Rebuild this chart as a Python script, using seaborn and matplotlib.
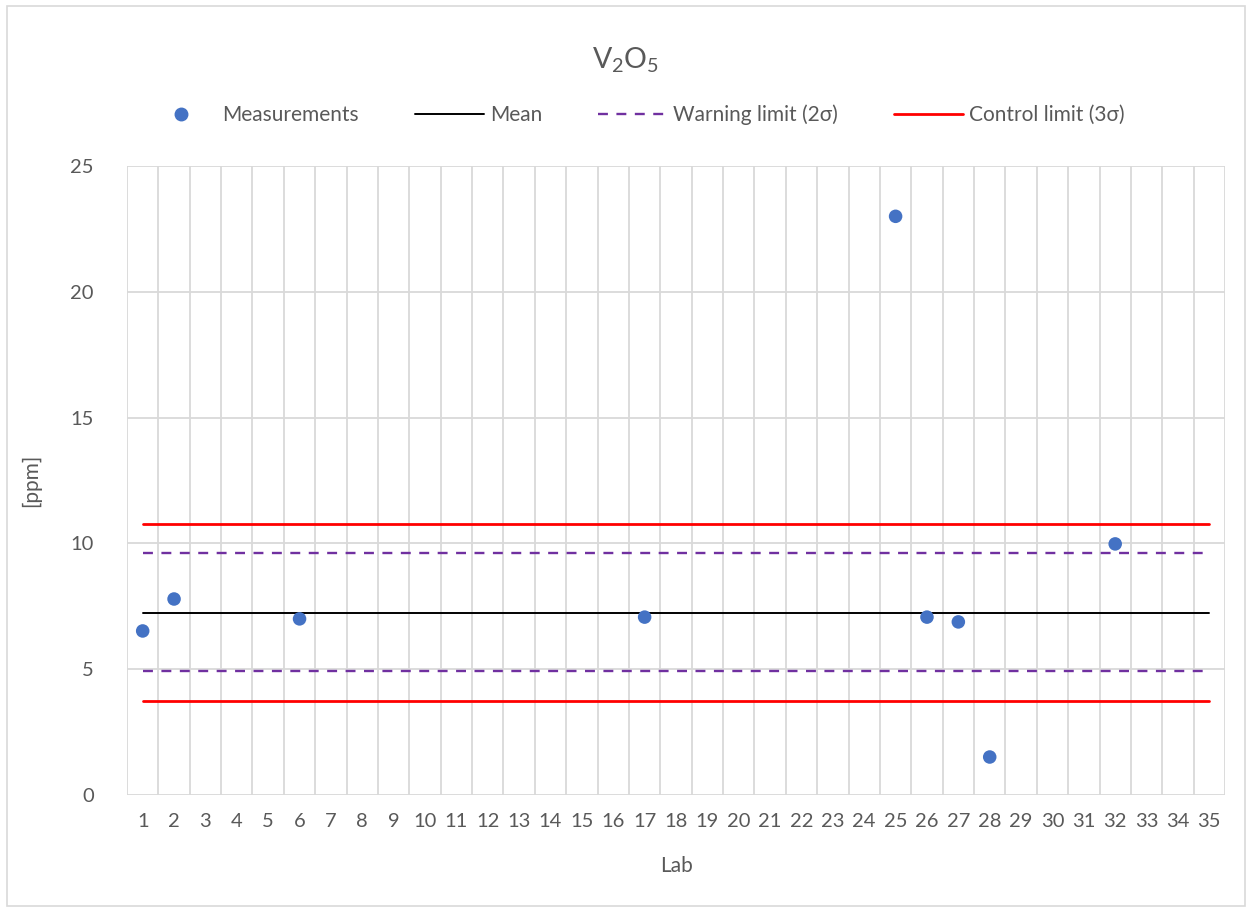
import matplotlib
matplotlib.use("Agg")
import matplotlib.pyplot as plt
import seaborn as sns
import pandas as pd
from matplotlib.lines import Line2D
from matplotlib.patches import Rectangle

# ---- data ----
labs = list(range(1, 36))
meas_labs = [1, 2, 6, 17, 25, 26, 27, 28, 32]
meas_values = [6.52, 7.79, 7.0, 7.07, 23.0, 7.07, 6.88, 1.51, 9.98]
mean_value = 7.23
warning_upper = 9.62
warning_lower = 4.93
control_upper = 10.77
control_lower = 3.74
y_ticks = [0, 5, 10, 15, 20, 25]

sns.set_theme(style="white")
plt.rcParams['font.family'] = ['Lato', 'DejaVu Sans']
plt.rcParams['mathtext.default'] = 'regular'
TXT = '#595959'

fig = plt.figure(figsize=(12.53, 9.09), dpi=100)
ax = fig.add_axes([127/1253, 1-795/909, (1225-127)/1253, (795-166)/909])

x_ends = [labs[0], labs[-1]]
def hline(val, color, lw, dashes=None):
    d = pd.DataFrame({'Lab': x_ends, 'v': [val, val]})
    sns.lineplot(data=d, x='Lab', y='v', ax=ax, color=color, linewidth=lw, legend=False)
    line = ax.get_lines()[-1]
    if dashes:
        line.set_dashes(dashes)
    return line

WDASH = (4.2, 3.6)
hline(control_upper, '#FF0000', 2.0)
hline(control_lower, '#FF0000', 2.0)
hline(warning_upper, '#7030A0', 1.7, dashes=WDASH)
hline(warning_lower, '#7030A0', 1.7, dashes=WDASH)
hline(mean_value, '#000000', 1.4)

df = pd.DataFrame({'Lab': meas_labs, 'ppm': meas_values})
sns.scatterplot(data=df, x='Lab', y='ppm', ax=ax, color='#4472C4', s=95, edgecolor='none', zorder=5, legend=False)

ax.set_xlim(0.5, 35.5)
ax.set_ylim(0, 25)
ax.set_xticks(labs)
ax.set_xticklabels([str(v) for v in labs], fontsize=14.5, color=TXT)
ax.set_xticks([v + 0.5 for v in [0] + labs], minor=True)
ax.set_yticks(y_ticks)
ax.set_yticklabels([str(v) for v in y_ticks], fontsize=14.5, color=TXT)
ax.grid(False)
ax.grid(True, which='minor', axis='x', color='#D9D9D9', linewidth=1.3)
ax.grid(True, which='major', axis='y', color='#D9D9D9', linewidth=1.3)
ax.tick_params(axis='both', which='both', length=0)
ax.tick_params(axis='x', pad=13)
ax.tick_params(axis='y', pad=24)
for s in ax.spines.values():
    s.set_visible(False)
ax.set_axisbelow(True)

ax.set_xlabel('Lab', fontsize=15, color=TXT, labelpad=19)
ax.set_ylabel('[ppm]', fontsize=15, color=TXT, labelpad=21)

fig.text(626/1253, 1-60/909, r'V$_2$O$_5$', ha='center', va='center', fontsize=20.5, color=TXT)

handles = [
    Line2D([], [], marker='o', linestyle='none', color='#4472C4', markersize=9),
    Line2D([], [], color='#000000', linewidth=1.4),
    Line2D([], [], color='#7030A0', linewidth=1.7, dashes=WDASH),
    Line2D([], [], color='#FF0000', linewidth=2.0),
]
labels = ['Measurements', 'Mean', 'Warning limit (2σ)', 'Control limit (3σ)']
leg = fig.legend(handles, labels, loc='center', bbox_to_anchor=(636/1253, 1-115/909), ncol=4,
                 frameon=False, fontsize=15, handlelength=3.3, handletextpad=0.3, columnspacing=2.7)
for t in leg.get_texts():
    t.set_color(TXT)

fig.patches.append(Rectangle((7/1253, 3/909), 1238/1253, 900/909, transform=fig.transFigure,
                             fill=False, edgecolor='#D9D9D9', linewidth=1.2))

fig.savefig('out.png', dpi=100, facecolor='white')
